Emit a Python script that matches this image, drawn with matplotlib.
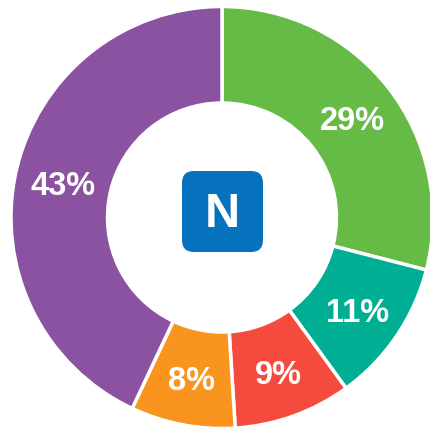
import matplotlib.pyplot as plt
from matplotlib.patches import FancyBboxPatch

labels = ["29%", "11%", "9%", "8%", "43%"]
shares = [29, 11, 9, 8, 43]
colors = ["#66BB47", "#00AE93", "#F44B3E", "#F9951F", "#8A52A1"]

plt.rcParams["font.family"] = ["Liberation Sans", "DejaVu Sans"]

fig = plt.figure(figsize=(4.31, 4.29), dpi=100)
ax = fig.add_axes([0, 0, 1, 1])

# axes are in pixels, y measured from the bottom of the image
ax.pie(
    shares,
    colors=colors,
    startangle=90,
    counterclock=False,
    center=(222, 211.5),
    radius=211,
    wedgeprops=dict(width=96.5, edgecolor="white", linewidth=2.5),
    frame=True,
)
ax.set_xlim(0, 431)
ax.set_ylim(0, 429)
ax.set_aspect("equal")
ax.axis("off")

label_pos = [(352, 308), (358, 115), (278, 54), (192, 48), (63, 242)]
for lab, (x, y) in zip(labels, label_pos):
    ax.text(x, y, lab, color="white", fontsize=23.5, fontweight="bold", ha="center", va="center")

badge = FancyBboxPatch((182, 177), 81, 81, boxstyle="round,pad=0,rounding_size=12", facecolor="#0671BC", edgecolor="none")
ax.add_patch(badge)
ax.text(222.5, 214, "N", color="white", fontsize=35, fontweight="bold", ha="center", va="center")

fig.savefig("out.png", dpi=100)
